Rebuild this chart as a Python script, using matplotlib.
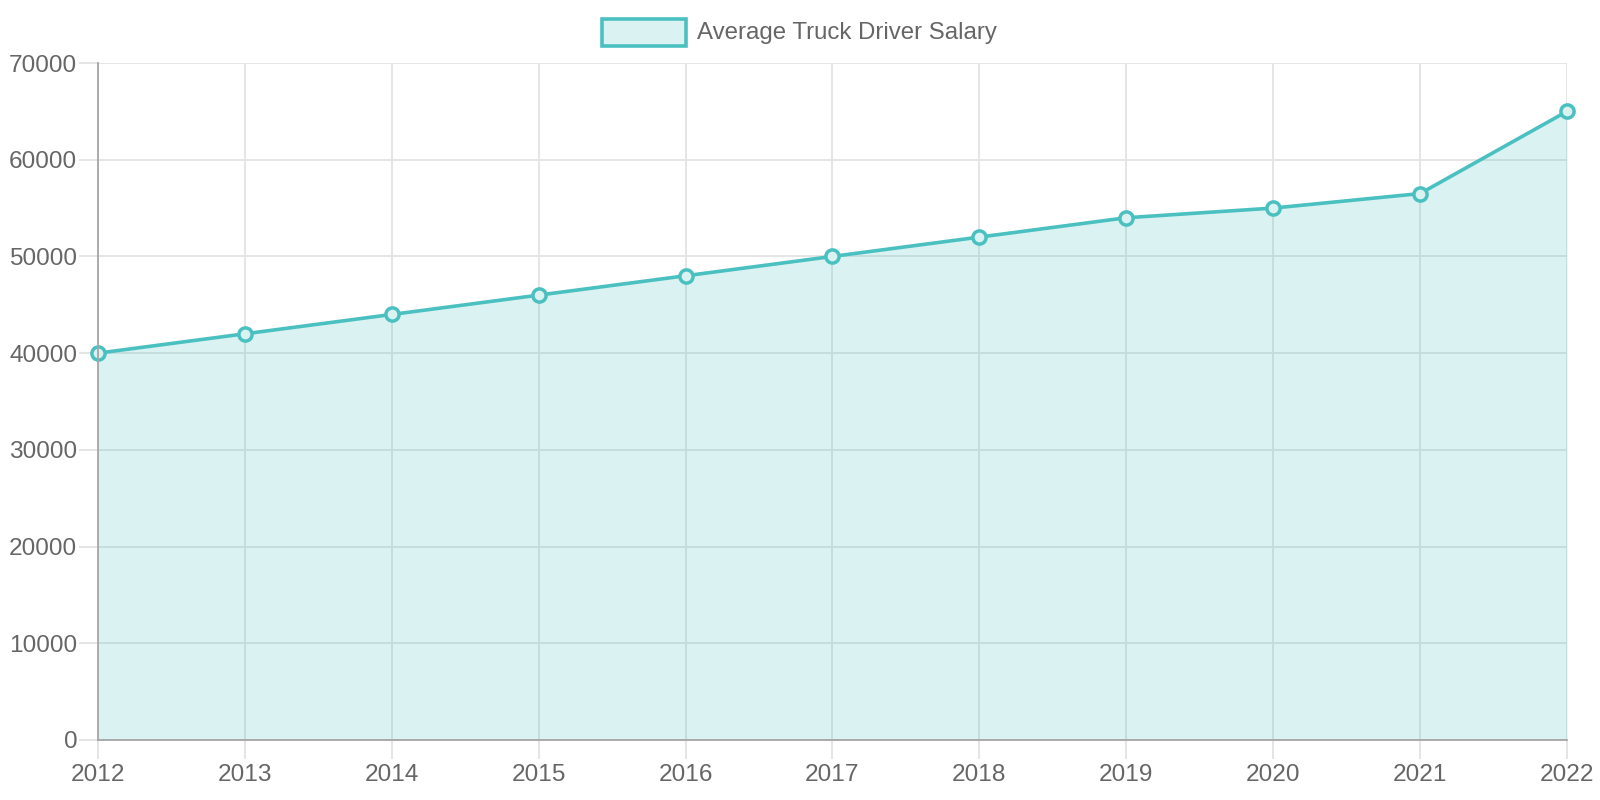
import matplotlib
matplotlib.use("Agg")
import matplotlib.pyplot as plt
from matplotlib.patches import Rectangle

years = [2012, 2013, 2014, 2015, 2016, 2017, 2018, 2019, 2020, 2021, 2022]
salary = [40000, 42000, 44000, 46000, 48000, 50000, 52000, 54000, 55000, 56500, 65000]
series_label = "Average Truck Driver Salary"
y_ticks = [0, 10000, 20000, 30000, 40000, 50000, 60000, 70000]

plt.rcParams['font.family'] = ['Liberation Sans', 'DejaVu Sans']

line_c = (75/255, 192/255, 192/255)
fill_c = (75/255, 192/255, 192/255, 0.2)
text_c = '#666666'
grid_c = '#e3e3e3'
axis_c = '#a6a6a6'

fig = plt.figure(figsize=(16, 8), dpi=100)
W, H = 1600, 800
left, right, top, bottom = 98, 1567, 63, 740
ax = fig.add_axes([left / W, 1 - bottom / H, (right - left) / W, (bottom - top) / H])

ax.set_xlim(years[0], years[-1])
ax.set_ylim(0, 70000)
ax.set_xticks(years)
ax.set_xticklabels([str(y) for y in years])
ax.set_yticks(y_ticks)
ax.set_yticklabels([str(v) for v in y_ticks])

ax.grid(True, color=grid_c, linewidth=1.3, zorder=0)
ax.set_axisbelow(True)

ax.fill_between(years, salary, 0, color=fill_c, linewidth=0, zorder=2)
ax.plot(years, salary, color=line_c, linewidth=2.6, zorder=3,
        marker='o', markersize=9.5, markeredgewidth=2.5,
        markerfacecolor=(0.86, 0.95, 0.95), markeredgecolor=line_c, clip_on=False)

for s in ['top', 'right']:
    ax.spines[s].set_visible(False)
for s in ['left', 'bottom']:
    ax.spines[s].set_color(axis_c)
    ax.spines[s].set_linewidth(1.3)
    ax.spines[s].set_zorder(4)

ax.tick_params(axis='both', colors=grid_c, length=14, width=1.3, labelcolor=text_c, labelsize=17.6)
ax.tick_params(axis='y', pad=1)
ax.tick_params(axis='x', pad=3.5)

# legend
fig.patches.append(Rectangle((602 / W, 1 - 46 / H), 84 / W, 27 / H, transform=fig.transFigure,
                             facecolor=fill_c, edgecolor=line_c, linewidth=2.6))
fig.text(697 / W, 1 - 32.5 / H, series_label, color=text_c, fontsize=17.3, va='center', ha='left')

fig.savefig('out.png', dpi=100)
